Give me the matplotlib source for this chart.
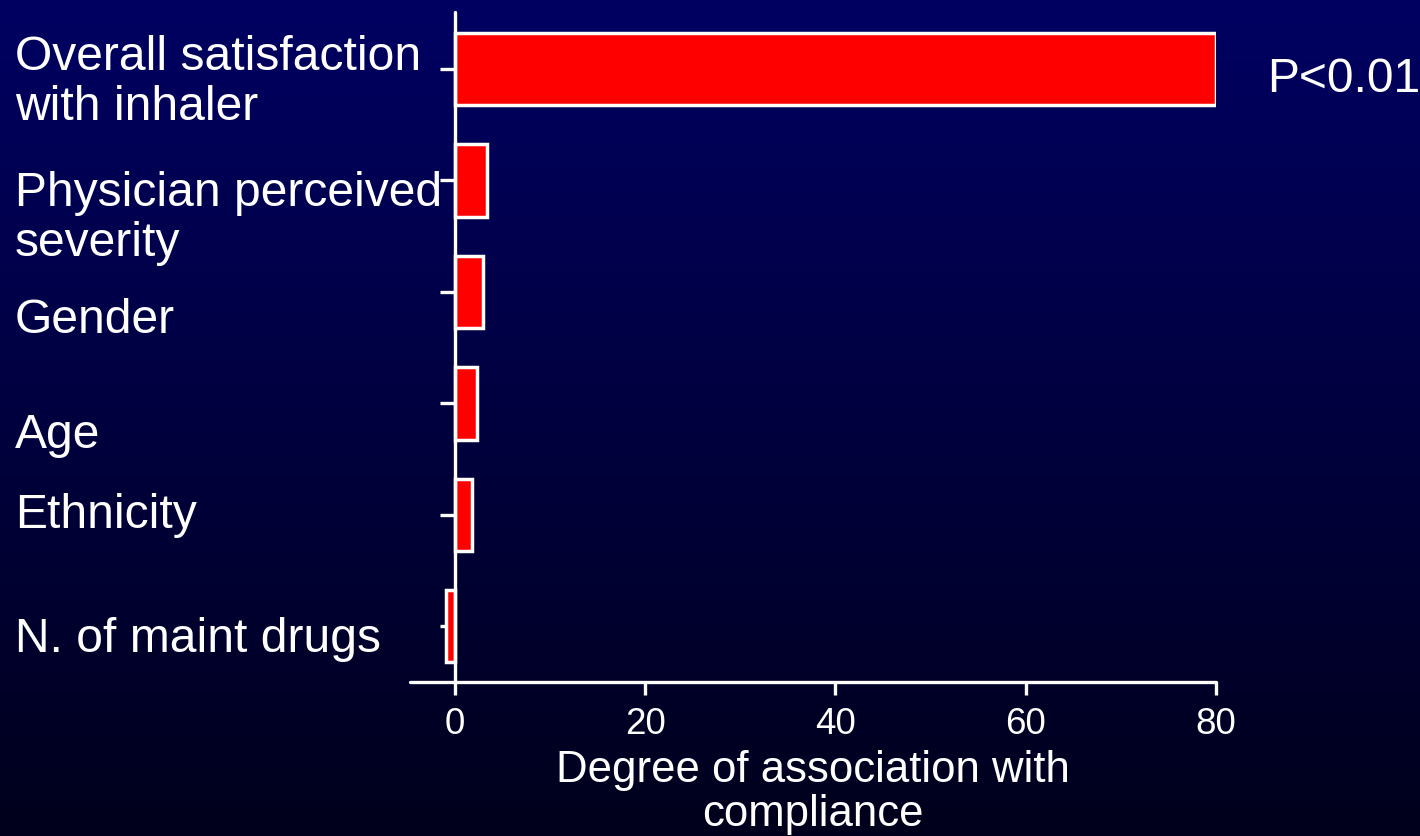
import numpy as np
import matplotlib
matplotlib.use('Agg')
import matplotlib.pyplot as plt

plt.rcParams['font.family'] = ['Liberation Sans', 'DejaVu Sans']

factors = ['Overall satisfaction\nwith inhaler', 'Physician perceived\nseverity',
           'Gender', 'Age', 'Ethnicity', 'N. of maint drugs']
association = [80.0, 3.4, 2.9, 2.3, 1.8, -0.9]
xticks = [0, 20, 40, 60, 80]

# baseline (in pixels from the top) of the last line of each factor label
label_base_px = [120, 256, 333, 448, 528, 652]

W, H = 1420, 837
fig = plt.figure(figsize=(W / 100, H / 100), dpi=100)

# navy gradient backdrop
bg = fig.add_axes([0, 0, 1, 1], zorder=-10)
grad = np.linspace(0, 1, 256).reshape(-1, 1)
top = np.array([0, 0, 0x62]) / 255
bot = np.array([0, 0, 0x1c]) / 255
img = top + (bot - top) * grad[..., None]
bg.imshow(img, aspect='auto', extent=[0, 1, 0, 1])
bg.set_axis_off()

ax = fig.add_axes([410 / W, 1 - 683 / H, (1216 - 410) / W, (683 - 13) / H])
ax.patch.set_alpha(0)

ypos = np.arange(len(factors))
ax.barh(ypos, association, height=0.65, color='#ff0000', edgecolor='white', linewidth=2.5, zorder=2)

ax.set_xlim(-4.73, 80)
ax.set_ylim(5.5, -0.51)

for side in ['top', 'right']:
    ax.spines[side].set_visible(False)
ax.spines['left'].set_position(('data', 0))
ax.spines['left'].set_zorder(3)
for side in ['left', 'bottom']:
    ax.spines[side].set_color('white')
    ax.spines[side].set_linewidth(2.4)
    ax.spines[side].set_capstyle('round')

ax.set_xticks(xticks)
ax.set_yticks(ypos)
ax.set_yticklabels([])
ax.tick_params(axis='x', colors='white', length=9, width=2.4, pad=8, labelsize=26.5)
ax.tick_params(axis='y', colors='white', length=10.8, width=2.4)

ax.set_xlabel('Degree of association with\ncompliance', color='white', fontsize=31.5,
              labelpad=6, linespacing=1.08)

for name, yb in zip(factors, label_base_px):
    fig.text(15 / W, 1 - yb / H, name, color='white', fontsize=34.6,
             ha='left', va='baseline', linespacing=1.13)

fig.text(1267 / W, 1 - 92 / H, 'P<0.01', color='white', fontsize=34.6,
         ha='left', va='baseline')

plt.savefig('out.png', dpi=100)
